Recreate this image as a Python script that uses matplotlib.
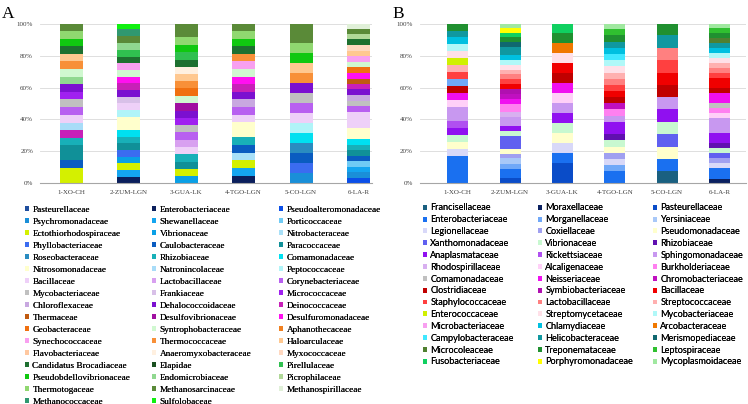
import matplotlib
matplotlib.use('Agg')
import matplotlib.pyplot as plt
from matplotlib.patches import Patch

samples = ['1-XO-CH', '2-ZUM-LGN', '3-GUA-LK', '4-TGO-LGN', '5-CO-LGN', '6-LA-R']
pct_ticks = [0, 20, 40, 60, 80, 100]

# ---------------- panel A ----------------
a_families = [
    'Pasteurellaceae', 'Enterobacteriaceae', 'Pseudoalteromonadaceae',
    'Psychromonadaceae', 'Shewanellaceae', 'Porticoccaceae',
    'Ectothiorhodospiraceae', 'Vibrionaceae', 'Nitrobacteraceae',
    'Phyllobacteriaceae', 'Caulobacteraceae', 'Paracoccaceae',
    'Roseobacteraceae', 'Rhizobiaceae', 'Comamonadaceae',
    'Nitrosomonadaceae', 'Natronincolaceae', 'Peptococcaceae',
    'Bacillaceae', 'Lactobacillaceae', 'Corynebacteriaceae',
    'Mycobacteriaceae', 'Frankiaceae', 'Micrococcaceae',
    'Chloroflexaceae', 'Dehalococcoidaceae', 'Deinococcaceae',
    'Thermaceae', 'Desulfovibrionaceae', 'Desulfuromonadaceae',
    'Geobacteraceae', 'Syntrophobacteraceae', 'Aphanothecaceae',
    'Synechococcaceae', 'Thermococcaceae', 'Haloarculaceae',
    'Flavobacteriaceae', 'Anaeromyxobacteraceae', 'Myxococcaceae',
    'Candidatus Brocadiaceae', 'Elapidae', 'Pirellulaceae',
    'Pseudobdellovibrionaceae', 'Endomicrobiaceae', 'Picrophilaceae',
    'Thermotogaceae', 'Methanosarcinaceae', 'Methanospirillaceae',
    'Methanococcaceae', 'Sulfolobaceae']
a_colors = [
    '#1F4E9E', '#0B1F5C', '#0B4FE8',
    '#1A8FD8', '#14A5F0', '#6FCBF5',
    '#D4F000', '#0AA0E6', '#A8E0F8',
    '#3B6CF0', '#0A5CC0', '#109098',
    '#2A8CC0', '#18B0B8', '#00E0F0',
    '#FFFFCC', '#A8DCF8', '#B0F4F8',
    '#EED0F8', '#D8A0F0', '#B860F0',
    '#C0C0C0', '#D8C0E8', '#A020F0',
    '#C8A8E0', '#7B10D0', '#C820B8',
    '#C05A10', '#A010A0', '#FF10F0',
    '#F07010', '#D0F8D0', '#F08020',
    '#F8A0F0', '#F89038', '#FFC890',
    '#FFC8A0', '#FFF0E0', '#FFD8C0',
    '#1E7030', '#1A5020', '#30C050',
    '#10C810', '#90D890', '#B0D898',
    '#90D870', '#5A8A38', '#E0F0D8',
    '#309870', '#10F010']

a1_fam = ['Ectothiorhodospiraceae', 'Caulobacteraceae', 'Paracoccaceae', 'Rhizobiaceae',
          'Deinococcaceae', 'Natronincolaceae', 'Bacillaceae', 'Corynebacteriaceae',
          'Mycobacteriaceae', 'Micrococcaceae', 'Dehalococcoidaceae', 'Endomicrobiaceae',
          'Syntrophobacteraceae', 'Thermococcaceae', 'Haloarculaceae', 'Candidatus Brocadiaceae',
          'Pseudobdellovibrionaceae', 'Thermotogaceae', 'Methanosarcinaceae']
a1_val = [9.4, 4.9, 9.4, 4.8, 4.8, 4.6, 4.9, 4.8, 5.0, 4.4, 5.1, 4.6, 5.0, 4.8, 4.6, 4.9, 4.6, 5.0, 4.4]

a2_fam = ['Enterobacteriaceae', 'Shewanellaceae', 'Ectothiorhodospiraceae', 'Vibrionaceae',
          'Phyllobacteriaceae', 'Paracoccaceae', 'Rhizobiaceae', 'Comamonadaceae',
          'Nitrosomonadaceae', 'Peptococcaceae', 'Bacillaceae', 'Frankiaceae',
          'Dehalococcoidaceae', 'Deinococcaceae', 'Desulfuromonadaceae', 'Syntrophobacteraceae',
          'Synechococcaceae', 'Candidatus Brocadiaceae', 'Pirellulaceae', 'Endomicrobiaceae',
          'Methanosarcinaceae', 'Methanococcaceae', 'Sulfolobaceae']
a2_val = [4.0, 4.2, 4.2, 4.2, 4.2, 4.1, 4.2, 4.2, 8.4, 4.2, 4.2, 4.2,
          4.2, 4.2, 4.2, 4.2, 4.2, 4.1, 4.4, 4.2, 4.2, 4.6, 3.4]

a3_fam = ['Vibrionaceae', 'Ectothiorhodospiraceae', 'Paracoccaceae', 'Rhizobiaceae',
          'Bacillaceae', 'Lactobacillaceae', 'Corynebacteriaceae', 'Mycobacteriaceae',
          'Micrococcaceae', 'Dehalococcoidaceae', 'Desulfovibrionaceae', 'Syntrophobacteraceae',
          'Geobacteraceae', 'Thermococcaceae', 'Haloarculaceae', 'Anaeromyxobacteraceae',
          'Candidatus Brocadiaceae', 'Pirellulaceae', 'Pseudobdellovibrionaceae', 'Thermotogaceae',
          'Methanosarcinaceae']
a3_val = [4.6, 4.4, 4.4, 4.8, 4.6, 4.2, 4.9, 4.6, 4.2, 4.8, 4.6, 4.8,
          4.6, 4.7, 4.4, 4.1, 4.7, 4.6, 4.8, 4.8, 8.4]

a4_fam = ['Enterobacteriaceae', 'Shewanellaceae', 'Ectothiorhodospiraceae', 'Nitrobacteraceae',
          'Caulobacteraceae', 'Rhizobiaceae', 'Nitrosomonadaceae', 'Bacillaceae',
          'Corynebacteriaceae', 'Chloroflexaceae', 'Dehalococcoidaceae', 'Deinococcaceae',
          'Desulfuromonadaceae', 'Syntrophobacteraceae', 'Synechococcaceae', 'Thermococcaceae',
          'Candidatus Brocadiaceae', 'Pseudobdellovibrionaceae', 'Thermotogaceae', 'Methanosarcinaceae']
a4_val = [4.6, 4.8, 4.9, 4.8, 4.8, 4.8, 9.5, 4.8, 5.0, 4.6, 4.6, 4.9,
          4.6, 5.0, 4.8, 4.6, 4.9, 4.6, 5.0, 4.4]

a5_fam = ['Psychromonadaceae', 'Phyllobacteriaceae', 'Caulobacteraceae', 'Roseobacteraceae',
          'Comamonadaceae', 'Peptococcaceae', 'Bacillaceae', 'Corynebacteriaceae',
          'Mycobacteriaceae', 'Dehalococcoidaceae', 'Thermococcaceae', 'Haloarculaceae',
          'Pseudobdellovibrionaceae', 'Thermotogaceae', 'Methanosarcinaceae']
a5_val = [6.1, 6.3, 6.3, 6.2, 6.3, 6.3, 6.3, 6.3, 6.3, 6.3, 6.3, 6.3, 6.3, 6.2, 12.2]

a6_fam = ['Pseudoalteromonadaceae', 'Psychromonadaceae', 'Shewanellaceae', 'Porticoccaceae',
          'Caulobacteraceae', 'Paracoccaceae', 'Rhizobiaceae', 'Comamonadaceae',
          'Nitrosomonadaceae', 'Bacillaceae', 'Corynebacteriaceae', 'Mycobacteriaceae',
          'Chloroflexaceae', 'Dehalococcoidaceae', 'Deinococcaceae', 'Thermaceae',
          'Desulfuromonadaceae', 'Geobacteraceae', 'Syntrophobacteraceae', 'Synechococcaceae',
          'Haloarculaceae', 'Myxococcaceae', 'Candidatus Brocadiaceae', 'Picrophilaceae',
          'Methanosarcinaceae', 'Methanospirillaceae']
a6_val = [3.4, 3.3, 3.6, 3.5, 3.4, 3.6, 3.3, 3.4, 6.9, 10.5, 3.5, 3.4,
          3.5, 3.6, 3.4, 3.3, 3.6, 3.5, 3.6, 3.6, 3.3, 3.6, 3.6, 3.1, 3.4, 3.1]

# ---------------- panel B ----------------
b_families = [
    'Francisellaceae', 'Moraxellaceae', 'Pasteurellaceae',
    'Enterobacteriaceae', 'Morganellaceae', 'Yersiniaceae',
    'Legionellaceae', 'Coxiellaceae', 'Pseudomonadaceae',
    'Xanthomonadaceae', 'Vibrionaceae', 'Rhizobiaceae',
    'Anaplasmataceae', 'Rickettsiaceae', 'Sphingomonadaceae',
    'Rhodospirillaceae', 'Alcaligenaceae', 'Burkholderiaceae',
    'Comamonadaceae', 'Neisseriaceae', 'Chromobacteriaceae',
    'Clostridiaceae', 'Symbiobacteriaceae', 'Bacillaceae',
    'Staphylococcaceae', 'Lactobacillaceae', 'Streptococcaceae',
    'Enterococcaceae', 'Streptomycetaceae', 'Mycobacteriaceae',
    'Microbacteriaceae', 'Chlamydiaceae', 'Arcobacteraceae',
    'Campylobacteraceae', 'Helicobacteraceae', 'Merismopediaceae',
    'Microcoleaceae', 'Treponemataceae', 'Leptospiraceae',
    'Fusobacteriaceae', 'Porphyromonadaceae', 'Mycoplasmoidaceae']
b_colors = [
    '#1A6080', '#0A2060', '#0A4CC8',
    '#1A70F0', '#70A8F8', '#A8C8F8',
    '#D8D8F8', '#A0A0F0', '#FFFFCC',
    '#6060F0', '#C8F8D0', '#6010B0',
    '#9010F0', '#B050F0', '#C898F0',
    '#D8B0F0', '#FFD0F8', '#FF80F0',
    '#C0C0C0', '#F010F0', '#C010C0',
    '#C00000', '#B010B0', '#F00000',
    '#FF4040', '#FF8080', '#FFB0B0',
    '#D0F000', '#FFE0E8', '#B0F8F8',
    '#F8A0F0', '#00C0E0', '#F07800',
    '#40E8FF', '#1098A0', '#106870',
    '#508030', '#209030', '#30C030',
    '#10D060', '#FFFF00', '#A0E8A0']

b1_fam = ['Enterobacteriaceae', 'Legionellaceae', 'Pseudomonadaceae', 'Vibrionaceae',
          'Anaplasmataceae', 'Rickettsiaceae', 'Sphingomonadaceae', 'Alcaligenaceae',
          'Neisseriaceae', 'Clostridiaceae', 'Morganellaceae', 'Staphylococcaceae',
          'Streptococcaceae', 'Enterococcaceae', 'Streptomycetaceae', 'Mycobacteriaceae',
          'Chlamydiaceae', 'Helicobacteraceae', 'Treponemataceae']
b1_val = [17.2, 4.2, 4.6, 4.2, 4.6, 4.2, 8.8, 4.4, 4.2, 4.6, 4.2, 4.6,
          4.2, 4.4, 4.6, 4.2, 4.4, 4.0, 4.4]

b2_fam = ['Pasteurellaceae', 'Enterobacteriaceae', 'Morganellaceae', 'Yersiniaceae',
          'Coxiellaceae', 'Pseudomonadaceae', 'Xanthomonadaceae', 'Vibrionaceae',
          'Anaplasmataceae', 'Sphingomonadaceae', 'Rhodospirillaceae', 'Burkholderiaceae',
          'Neisseriaceae', 'Chromobacteriaceae', 'Symbiobacteriaceae', 'Bacillaceae',
          'Staphylococcaceae', 'Lactobacillaceae', 'Streptococcaceae', 'Streptomycetaceae',
          'Mycobacteriaceae', 'Chlamydiaceae', 'Helicobacteraceae', 'Merismopediaceae',
          'Treponemataceae', 'Fusobacteriaceae', 'Porphyromonadaceae', 'Mycoplasmoidaceae']
b2_val = [3.0, 6.0, 3.2, 3.2, 3.1, 3.1, 8.0, 3.1, 3.1, 5.5, 3.0, 5.5,
          3.1, 3.1, 3.0, 3.1, 3.0, 3.1, 3.0, 3.1, 3.1, 3.1, 5.0, 2.9,
          3.1, 2.7, 3.1, 2.7]

b3_fam = ['Pasteurellaceae', 'Enterobacteriaceae', 'Legionellaceae', 'Pseudomonadaceae',
          'Vibrionaceae', 'Anaplasmataceae', 'Sphingomonadaceae', 'Alcaligenaceae',
          'Neisseriaceae', 'Clostridiaceae', 'Bacillaceae', 'Streptomycetaceae',
          'Arcobacteraceae', 'Treponemataceae', 'Fusobacteriaceae']
b3_val = [12.4, 6.3, 6.2, 6.3, 6.3, 6.3, 6.3, 6.3, 6.3, 6.3, 6.3, 6.3, 6.2, 6.3, 5.9]

b4_fam = ['Enterobacteriaceae', 'Morganellaceae', 'Legionellaceae', 'Coxiellaceae',
          'Pseudomonadaceae', 'Vibrionaceae', 'Rhizobiaceae', 'Anaplasmataceae',
          'Sphingomonadaceae', 'Burkholderiaceae', 'Chromobacteriaceae', 'Clostridiaceae',
          'Bacillaceae', 'Staphylococcaceae', 'Lactobacillaceae', 'Streptococcaceae',
          'Streptomycetaceae', 'Mycobacteriaceae', 'Campylobacteraceae', 'Chlamydiaceae',
          'Helicobacteraceae', 'Treponemataceae', 'Leptospiraceae', 'Mycoplasmoidaceae']
b4_val = [7.5, 3.8, 3.8, 4.0, 3.8, 4.1, 3.6, 8.0, 3.7, 4.0, 3.8, 3.8,
          4.0, 3.7, 4.0, 3.8, 4.2, 3.8, 3.7, 4.0, 3.8, 3.8, 3.9, 3.4]

b5_fam = ['Francisellaceae', 'Enterobacteriaceae', 'Pseudomonadaceae', 'Xanthomonadaceae',
          'Vibrionaceae', 'Anaplasmataceae', 'Sphingomonadaceae', 'Clostridiaceae',
          'Bacillaceae', 'Staphylococcaceae', 'Lactobacillaceae', 'Helicobacteraceae',
          'Treponemataceae']
b5_val = [7.5, 7.6, 7.8, 7.7, 8.0, 7.7, 7.6, 7.7, 7.7, 7.8, 7.8, 8.0, 7.3]

b6_fam = ['Moraxellaceae', 'Enterobacteriaceae', 'Legionellaceae', 'Coxiellaceae',
          'Xanthomonadaceae', 'Vibrionaceae', 'Rhizobiaceae', 'Anaplasmataceae',
          'Sphingomonadaceae', 'Alcaligenaceae', 'Burkholderiaceae', 'Comamonadaceae',
          'Neisseriaceae', 'Clostridiaceae', 'Bacillaceae', 'Staphylococcaceae',
          'Lactobacillaceae', 'Streptococcaceae', 'Streptomycetaceae', 'Mycobacteriaceae',
          'Chlamydiaceae', 'Helicobacteraceae', 'Microcoleaceae', 'Treponemataceae',
          'Leptospiraceae', 'Mycoplasmoidaceae']
b6_val = [2.5, 6.7, 3.2, 3.1, 3.2, 3.1, 3.1, 6.3, 9.5, 3.1, 3.2, 3.1,
          6.3, 3.1, 6.3, 3.2, 3.1, 3.2, 3.1, 3.2, 3.1, 3.1, 3.2, 3.1, 3.2, 2.7]

a_bars = [(a1_fam, a1_val), (a2_fam, a2_val), (a3_fam, a3_val),
          (a4_fam, a4_val), (a5_fam, a5_val), (a6_fam, a6_val)]
b_bars = [(b1_fam, b1_val), (b2_fam, b2_val), (b3_fam, b3_val),
          (b4_fam, b4_val), (b5_fam, b5_val), (b6_fam, b6_val)]

SERIF = 'Liberation Serif'
SANS = 'Lato'

fig = plt.figure(figsize=(7.48, 4.04), dpi=100)
fig.patch.set_facecolor('white')
axA = fig.add_axes([0.0535, 0.547, 0.444, 0.394])
axB = fig.add_axes([0.5615, 0.547, 0.436, 0.394])


def draw_panel(ax, bars, fams, cols, xlim):
    cmap = dict(zip(fams, cols))
    for i, (names, vals) in enumerate(bars):
        bottom = 0
        for n, v in zip(names, vals):
            ax.bar(i, v, bottom=bottom, width=0.4, color=cmap[n], linewidth=0)
            bottom += v
    ax.set_xlim(*xlim)
    ax.set_ylim(0, 100)
    ax.set_yticks(pct_ticks)
    ax.set_yticklabels([f'{t}%' for t in pct_ticks], fontsize=5, family=SERIF, color='#404040')
    ax.set_xticks(range(len(samples)))
    ax.set_xticklabels(samples, fontsize=5, family=SERIF, color='#404040')
    ax.tick_params(length=0, pad=5)
    ax.yaxis.grid(True, color='#D9D9D9', linewidth=0.6)
    ax.set_axisbelow(True)
    for s in ['top', 'right', 'left']:
        ax.spines[s].set_visible(False)
    ax.spines['bottom'].set_color('#A6A6A6')
    ax.spines['bottom'].set_linewidth(0.8)


draw_panel(axA, a_bars, a_families, a_colors, (-0.54, 5.235))
draw_panel(axB, b_bars, b_families, b_colors, (-0.72, 5.51))

fig.text(0.003, 1 - 18 / 404, 'A', fontsize=12.5, family=SERIF, va='baseline', ha='left')
fig.text(0.525, 1 - 18 / 404, 'B', fontsize=12.5, family=SERIF, va='baseline', ha='left')


def add_legend(fams, cols, xs, ytop, family, fs, spacing):
    for c in range(3):
        h = [Patch(facecolor=cols[k], edgecolor='none') for k in range(c, len(fams), 3)]
        l = [fams[k] for k in range(c, len(fams), 3)]
        leg = fig.legend(h, l, loc='upper left', bbox_to_anchor=(xs[c] / 748, 1 - ytop / 404),
                         frameon=False, borderpad=0, borderaxespad=0, handlelength=0.45,
                         handleheight=0.45, handletextpad=0.35, labelspacing=spacing,
                         prop={'family': family, 'size': fs})
        fig.add_artist(leg)


add_legend(a_families, a_colors, [25, 152, 279], 205.5, SERIF, 6.7, 0.43)
add_legend(b_families, b_colors, [423, 538, 653], 203.5, SANS, 6.6, 0.31)

fig.savefig('out.png', dpi=100)
